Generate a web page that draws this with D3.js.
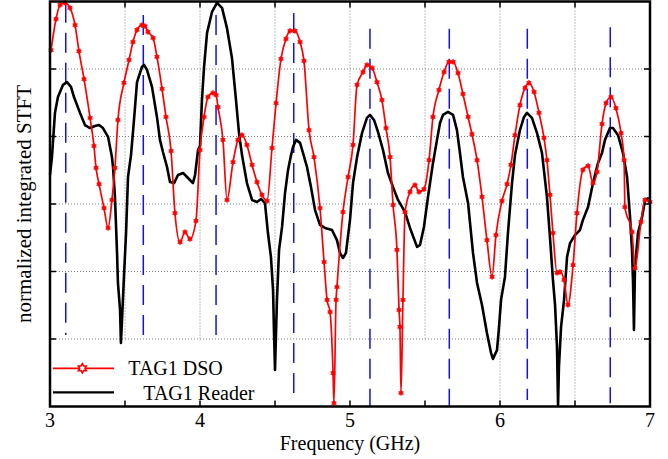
<!DOCTYPE html>
<html><head><meta charset="utf-8">
<script src="https://cdn.jsdelivr.net/npm/d3@7"></script>
<style>body{margin:0;background:#fff}svg{display:block}text{font-family:"Liberation Serif","Times New Roman",serif;fill:#000}</style>
</head><body>
<svg id="c" width="668" height="459"></svg>
<script>
// ---- data (frequency in GHz, normalized integrated STFT) ----
const dsoFreq = [3.007,3.040,3.067,3.100,3.133,3.167,3.193,3.227,3.267,3.293,3.307,3.327,3.360,3.387,3.413,3.433,3.453,3.493,3.527,3.553,3.580,3.613,3.633,3.653,3.687,3.713,3.747,3.773,3.807,3.833,3.867,3.900,3.933,3.973,4.000,4.027,4.053,4.087,4.107,4.120,4.153,4.180,4.220,4.253,4.280,4.313,4.347,4.380,4.413,4.447,4.480,4.507,4.540,4.573,4.600,4.633,4.667,4.693,4.727,4.760,4.800,4.827,4.847,4.867,4.887,4.893,4.907,4.913,4.953,4.987,5.020,5.047,5.087,5.113,5.147,5.180,5.213,5.240,5.267,5.287,5.313,5.327,5.333,5.340,5.353,5.367,5.400,5.433,5.460,5.493,5.527,5.553,5.593,5.627,5.660,5.687,5.720,5.753,5.787,5.813,5.847,5.880,5.913,5.947,5.973,6.013,6.047,6.073,6.100,6.133,6.167,6.193,6.227,6.260,6.293,6.313,6.333,6.353,6.380,6.400,6.427,6.453,6.487,6.513,6.553,6.587,6.620,6.647,6.680,6.707,6.740,6.773,6.807,6.827,6.833,6.880,6.900,6.940,6.967,7.000];
const dsoValue = [1.056,1.148,1.190,1.196,1.181,1.130,1.053,0.970,0.855,0.772,0.707,0.659,0.588,0.529,0.612,0.707,0.849,0.959,1.027,1.080,1.116,1.130,1.127,1.110,1.092,1.036,0.941,0.858,0.757,0.573,0.487,0.517,0.496,0.550,0.760,0.858,0.917,0.929,0.923,0.887,0.790,0.612,0.724,0.790,0.804,0.775,0.716,0.665,0.627,0.609,0.766,0.899,1.030,1.089,1.113,1.113,1.080,1.024,0.819,0.739,0.588,0.428,0.316,0.280,0.099,0.010,0.316,0.354,0.576,0.680,0.775,0.953,0.991,1.012,1.003,0.961,0.908,0.825,0.739,0.597,0.464,0.286,0.236,0.040,0.316,0.576,0.636,0.656,0.636,0.644,0.730,0.858,0.938,0.991,1.021,1.021,0.988,0.926,0.858,0.807,0.730,0.621,0.493,0.384,0.508,0.609,0.659,0.716,0.804,0.893,0.944,0.959,0.932,0.870,0.796,0.730,0.627,0.514,0.396,0.399,0.375,0.301,0.419,0.573,0.701,0.713,0.662,0.695,0.837,0.899,0.917,0.884,0.810,0.730,0.591,0.517,0.410,0.547,0.612,0.606];

const readerFreq = [3.000,3.013,3.033,3.053,3.087,3.113,3.140,3.160,3.200,3.233,3.267,3.300,3.327,3.353,3.387,3.413,3.420,3.433,3.447,3.453,3.467,3.473,3.480,3.493,3.507,3.520,3.540,3.560,3.580,3.613,3.627,3.647,3.680,3.713,3.733,3.753,3.780,3.800,3.827,3.853,3.887,3.920,3.953,3.967,3.987,4.000,4.013,4.027,4.047,4.080,4.113,4.147,4.180,4.213,4.240,4.260,4.280,4.313,4.347,4.380,4.407,4.433,4.453,4.473,4.487,4.493,4.500,4.513,4.527,4.547,4.567,4.587,4.607,4.620,4.640,4.667,4.687,4.713,4.740,4.767,4.800,4.833,4.880,4.913,4.933,4.953,4.973,5.000,5.020,5.047,5.080,5.113,5.133,5.160,5.187,5.220,5.253,5.287,5.320,5.367,5.400,5.447,5.467,5.493,5.520,5.553,5.580,5.600,5.620,5.653,5.687,5.713,5.733,5.753,5.787,5.820,5.847,5.880,5.913,5.940,5.953,5.980,5.993,6.007,6.033,6.053,6.080,6.100,6.133,6.160,6.180,6.213,6.247,6.280,6.313,6.333,6.353,6.367,6.380,6.387,6.393,6.407,6.427,6.447,6.467,6.500,6.533,6.553,6.587,6.620,6.653,6.680,6.700,6.733,6.753,6.787,6.820,6.847,6.867,6.880,6.887,6.893,6.900,6.920,6.947,6.967,6.993];
const readerValue = [0.686,0.739,0.870,0.917,0.953,0.961,0.947,0.917,0.870,0.834,0.825,0.831,0.834,0.825,0.799,0.739,0.710,0.621,0.455,0.366,0.286,0.188,0.256,0.384,0.514,0.680,0.745,0.849,0.961,1.006,1.012,0.997,0.947,0.858,0.790,0.754,0.710,0.665,0.662,0.686,0.692,0.677,0.662,0.686,0.760,0.772,0.908,1.006,1.107,1.169,1.196,1.181,1.121,1.033,0.908,0.810,0.745,0.662,0.612,0.606,0.615,0.603,0.514,0.443,0.345,0.227,0.108,0.316,0.464,0.532,0.633,0.701,0.745,0.769,0.790,0.781,0.751,0.710,0.650,0.582,0.538,0.529,0.523,0.493,0.455,0.440,0.455,0.553,0.662,0.739,0.810,0.855,0.864,0.849,0.813,0.760,0.692,0.650,0.612,0.576,0.529,0.473,0.479,0.532,0.621,0.721,0.790,0.840,0.864,0.873,0.864,0.819,0.751,0.680,0.603,0.455,0.366,0.301,0.218,0.159,0.141,0.167,0.233,0.316,0.384,0.514,0.662,0.745,0.819,0.858,0.870,0.855,0.810,0.751,0.621,0.502,0.375,0.301,0.176,0.004,0.117,0.236,0.316,0.443,0.484,0.508,0.523,0.553,0.591,0.662,0.721,0.751,0.790,0.825,0.825,0.804,0.751,0.680,0.561,0.464,0.366,0.227,0.413,0.514,0.561,0.612,0.618];

// resonance peak markers (blue dashed lines)
const peakFreq   = [3.105,3.622,4.107,4.625,5.133,5.662,6.182,6.735];
const peakTop    = [1.196,1.160,1.160,1.166,1.119,1.119,1.119,1.124];
const peakBottom = [0.212,0.212,0.212,0.028,0.000,0.000,0.019,0.010];

const xTickValues = [3,4,5,6,7];
const xMinorTicks = [3.5,4,4.5,5,5.5,6,6.5];
const yTickValues = [0.2,0.4,0.6,0.8,1.0];
const legendLabels = ["TAG1 DSO","TAG1 Reader"];

// ---- layout ----
const L=50, R=650, T=1.5, B=406.5;
const svg = d3.select("#c");
const x = d3.scaleLinear().domain([3,7]).range([L,R]);
const y = d3.scaleLinear().domain([0,1.2]).range([B,T]);

// grid
const grid = svg.append("g").attr("stroke","#808080").attr("stroke-width",1).attr("stroke-dasharray","1,2");
grid.selectAll("line.v").data(xMinorTicks).join("line").attr("class","v")
  .attr("x1",d=>x(d)).attr("x2",d=>x(d)).attr("y1",T).attr("y2",B);
grid.selectAll("line.h").data(yTickValues).join("line").attr("class","h")
  .attr("x1",L).attr("x2",R).attr("y1",d=>y(d)).attr("y2",d=>y(d));

// legend background (beneath data)
svg.append("rect").attr("x",L+1).attr("y",y(0.195)).attr("width",x(5.73)-L).attr("height",B-1-y(0.195)).attr("fill","#fff");

// blue dashed peak lines
svg.append("g").selectAll("line").data(peakFreq).join("line")
  .attr("x1",d=>x(d)).attr("x2",d=>x(d))
  .attr("y1",(d,i)=>y(peakTop[i])).attr("y2",(d,i)=>y(peakBottom[i]))
  .attr("stroke","#1010ff").attr("stroke-width",1.5).attr("stroke-dasharray","20,10");

const dso = dsoFreq.map((f,i)=>[f,dsoValue[i]]);
const reader = readerFreq.map((f,i)=>[f,readerValue[i]]);

// black reader line
svg.append("path").datum(reader)
  .attr("d",d3.line().x(d=>x(d[0])).y(d=>y(d[1])))
  .attr("fill","none").attr("stroke","#000").attr("stroke-width",2.6).attr("stroke-linejoin","round");

// red DSO line
svg.append("path").datum(dso)
  .attr("d",d3.line().x(d=>x(d[0])).y(d=>y(d[1])).curve(d3.curveMonotoneX))
  .attr("fill","none").attr("stroke","#ff0000").attr("stroke-width",1.7);

function hexagram(cx,cy,r){
  const pts=[];
  for(let k=0;k<12;k++){
    const a=-Math.PI/2+k*Math.PI/6;
    const rr=(k%2===0)?r:r*0.577;
    pts.push([cx+rr*Math.cos(a),cy+rr*Math.sin(a)]);
  }
  return "M"+pts.map(p=>p[0].toFixed(2)+","+p[1].toFixed(2)).join("L")+"Z";
}
svg.append("g").selectAll("path").data(dso).join("path")
  .attr("d",d=>hexagram(x(d[0]),y(d[1]),2.6))
  .attr("fill","#ff0000").attr("stroke","#ff0000").attr("stroke-width",0.8);

// legend
svg.append("line").attr("x1",53).attr("x2",114).attr("y1",368.3).attr("y2",368.3).attr("stroke","#ff0000").attr("stroke-width",1.8);
svg.append("path").attr("d",hexagram(82.3,368.3,4.6)).attr("fill","#fff").attr("stroke","#ff0000").attr("stroke-width",1.6);
svg.append("text").attr("x",128.3).attr("y",374.5).attr("font-size",20).text(legendLabels[0]);
svg.append("line").attr("x1",53).attr("x2",114).attr("y1",392.3).attr("y2",392.3).attr("stroke","#000").attr("stroke-width",2.2);
svg.append("text").attr("x",143.3).attr("y",400).attr("font-size",20).text(legendLabels[1]);

// ticks
const tk = svg.append("g").attr("stroke","#000").attr("stroke-width",1.5);
tk.selectAll("line.b").data(xMinorTicks).join("line").attr("class","b")
  .attr("x1",d=>x(d)).attr("x2",d=>x(d)).attr("y1",B).attr("y2",B-6);
tk.selectAll("line.t").data(xMinorTicks).join("line").attr("class","t")
  .attr("x1",d=>x(d)).attr("x2",d=>x(d)).attr("y1",T).attr("y2",T+6);
tk.selectAll("line.l").data(yTickValues).join("line").attr("class","l")
  .attr("x1",L).attr("x2",L+6).attr("y1",d=>y(d)).attr("y2",d=>y(d));
tk.selectAll("line.r").data(yTickValues.concat([0.5])).join("line").attr("class","r")
  .attr("x1",R).attr("x2",R-6).attr("y1",d=>y(d)).attr("y2",d=>y(d));

// frame
svg.append("rect").attr("x",L).attr("y",T).attr("width",R-L).attr("height",B-T)
  .attr("fill","none").attr("stroke","#000").attr("stroke-width",2.5);

// x tick labels
svg.append("g").selectAll("text").data(xTickValues).join("text")
  .attr("x",d=>x(d)).attr("y",427).attr("text-anchor","middle").attr("font-size",20)
  .text(d=>d3.format("d")(d));

// axis labels
svg.append("text").attr("x",(L+R)/2).attr("y",450).attr("text-anchor","middle").attr("font-size",20).text("Frequency (GHz)");
svg.append("text").attr("transform",`translate(31,${(T+B)/2}) rotate(-90)`).attr("text-anchor","middle").attr("font-size",21).text("normalized integrated STFT");
</script>
</body></html>
